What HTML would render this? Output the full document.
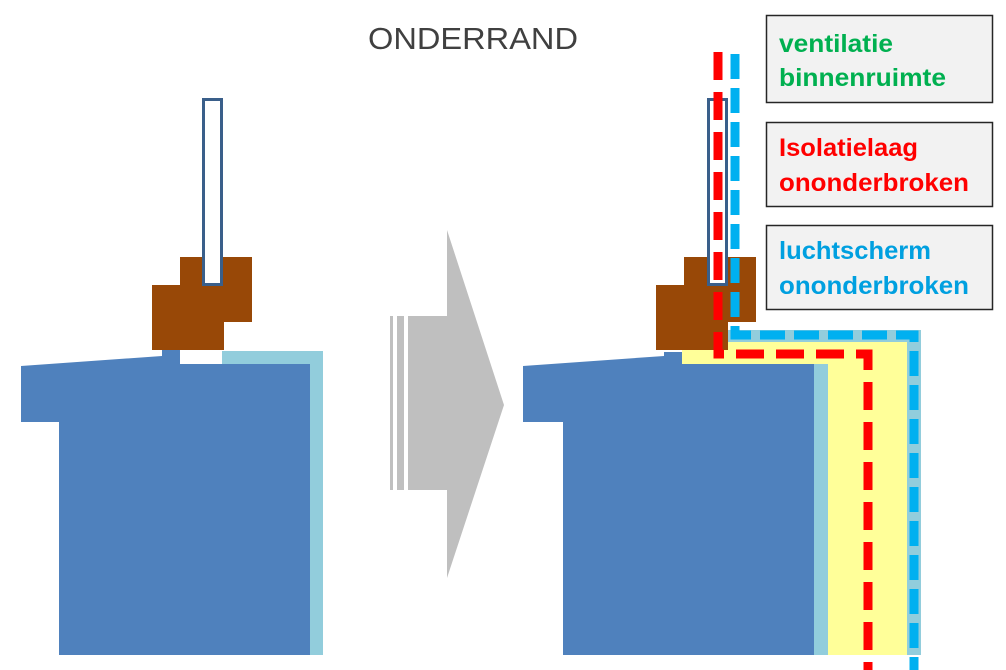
<!DOCTYPE html>
<html><head><style>body{margin:0;background:#fff}svg{display:block}</style></head><body>
<svg width="1006" height="670" viewBox="0 0 1006 670" xmlns="http://www.w3.org/2000/svg">
<text x="368" y="49" textLength="210" lengthAdjust="spacingAndGlyphs" font-family="Liberation Sans, sans-serif" font-size="31" fill="#404040">ONDERRAND</text>
<!-- left figure -->
<rect x="222" y="351" width="101" height="304" fill="#92cddc"/>
<polygon points="21,366 162,356 162,350 180,350 180,364 310,364 310,655 59,655 59,422 21,422" fill="#4f81bd"/>
<rect x="180" y="257" width="72" height="65" fill="#984807"/>
<rect x="152" y="285" width="72" height="65" fill="#984807"/>
<rect x="203.5" y="99.5" width="18" height="185" fill="#fff" stroke="#3a5f8a" stroke-width="3"/>
<!-- arrow -->
<rect x="390" y="316" width="3" height="174" fill="#bfbfbf"/>
<rect x="397" y="316" width="7" height="174" fill="#bfbfbf"/>
<polygon points="408,316 447,316 447,230 504,405 447,578 447,490 408,490" fill="#bfbfbf"/>
<!-- right figure -->
<rect x="728" y="330" width="193" height="325" fill="#92cddc"/>
<rect x="682" y="342" width="225" height="313" fill="#ffff99"/>
<rect x="814" y="364" width="14" height="291" fill="#92cddc"/>
<polygon points="523,366 664,356 664,352 682,352 682,364 814,364 814,655 563,655 563,422 523,422" fill="#4f81bd"/>
<rect x="684" y="257" width="72" height="65" fill="#984807"/>
<rect x="656" y="285" width="72" height="65" fill="#984807"/>
<rect x="708.5" y="99.5" width="18" height="185" fill="#fff" stroke="#3a5f8a" stroke-width="3"/>
<polyline points="735,54 735,335 914,335 914,670" fill="none" stroke="#00b0f0" stroke-width="9" stroke-dasharray="25,9"/>
<polyline points="718,52 718,354 868,354 868,670" fill="none" stroke="#ff0000" stroke-width="9" stroke-dasharray="28,12"/>
<!-- boxes -->
<g font-family="Liberation Sans, sans-serif" font-size="25" font-weight="bold" lengthAdjust="spacingAndGlyphs">
<rect x="766.5" y="15.5" width="226" height="87" fill="#f2f2f2" stroke="#262626" stroke-width="1.5"/>
<text x="779" y="52" fill="#00b050" textLength="114" lengthAdjust="spacingAndGlyphs">ventilatie</text>
<text x="779" y="86" fill="#00b050" textLength="167" lengthAdjust="spacingAndGlyphs">binnenruimte</text>
<rect x="766.5" y="122.5" width="226" height="84" fill="#f2f2f2" stroke="#262626" stroke-width="1.5"/>
<text x="779" y="156" fill="#ff0000" textLength="139" lengthAdjust="spacingAndGlyphs">Isolatielaag</text>
<text x="779" y="191" fill="#ff0000" textLength="190" lengthAdjust="spacingAndGlyphs">ononderbroken</text>
<rect x="766.5" y="225.5" width="226" height="84" fill="#f2f2f2" stroke="#262626" stroke-width="1.5"/>
<text x="779" y="259" fill="#00a0e0" textLength="152" lengthAdjust="spacingAndGlyphs">luchtscherm</text>
<text x="779" y="294" fill="#00a0e0" textLength="190" lengthAdjust="spacingAndGlyphs">ononderbroken</text>
</g>
</svg>
</body></html>
